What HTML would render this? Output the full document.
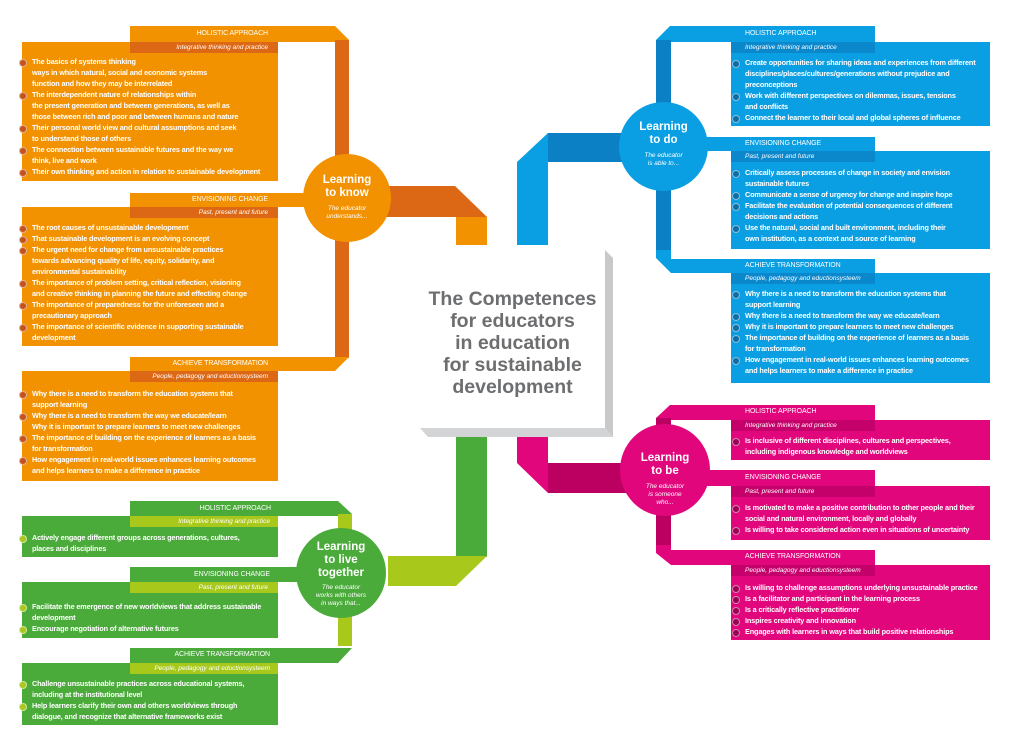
<!DOCTYPE html>
<html><head><meta charset="utf-8"><style>
*{margin:0;padding:0;box-sizing:border-box}
body{width:1024px;height:750px;background:#fff;position:relative;overflow:hidden;font-family:"Liberation Sans",sans-serif}
.a{position:absolute}
.box{position:absolute;color:#fff;font-weight:bold;font-size:7.3px;line-height:11px;letter-spacing:-0.15px;white-space:nowrap}
.box p{position:relative;padding-left:10px}
.box p::before{content:"";position:absolute;left:-3px;top:2.5px;width:6px;height:6px;border-radius:50%;background:var(--b);border:1px solid #fff8}
.hd{position:absolute;color:#fff;font-size:7px;line-height:14px;letter-spacing:-0.1px}
.sh{position:absolute;color:#fff;font-size:6.5px;line-height:11px;font-style:italic}
.circ{position:absolute;border-radius:50%;color:#fff;text-align:center}
.circ b{display:block;font-size:11.5px;line-height:13px}
.circ i{display:block;font-size:6.5px;line-height:8px;margin-top:5px}
</style></head><body>
<svg class="a" style="left:0;top:0" width="1024" height="750">
<polygon points="130,26 335,26 349,40 349,42 130,42" fill="#f39200"/>
<rect x="335" y="40" width="14" height="318" fill="#dc6714"/>
<polygon points="130,357 349,357 335,371 130,371" fill="#f39200"/>
<rect x="130" y="193" width="190" height="14" fill="#f39200"/>
<polygon points="385,186 455,186 487,217 385,217 385,210" fill="#dc6714"/>
<rect x="456" y="217" width="31" height="28" fill="#f39200"/>
<polygon points="670,26 875,26 875,42 656,42 656,40" fill="#0a9fe3"/>
<rect x="656" y="40" width="15" height="212" fill="#0b80c4"/>
<polygon points="656,250 671,250 671,259 875,259 875,273 671,273 656,258" fill="#0a9fe3"/>
<rect x="700" y="137" width="175" height="14" fill="#0a9fe3"/>
<rect x="548" y="133" width="80" height="29" fill="#0b80c4"/>
<polygon points="548,133 548,245 517,245 517,162" fill="#0a9fe3"/>
<polygon points="670,405 875,405 875,420 656,420 656,418" fill="#e2067c"/>
<rect x="656" y="418" width="15" height="130" fill="#bb0062"/>
<polygon points="656,545 671,545 671,550 875,550 875,565 671,565 656,553" fill="#e2067c"/>
<rect x="700" y="470" width="175" height="16" fill="#e2067c"/>
<polygon points="517,437 548,437 548,493 517,463" fill="#e2067c"/>
<rect x="548" y="463" width="80" height="30" fill="#bb0062"/>
<polygon points="130,501 338,501 352,514 352,516 130,516" fill="#4aab3a"/>
<rect x="338" y="514" width="14" height="132" fill="#a8c81c"/>
<polygon points="130,648 352,648 338,663 130,663" fill="#4aab3a"/>
<rect x="130" y="567" width="190" height="15" fill="#4aab3a"/>
<rect x="456" y="437" width="31" height="120" fill="#4aab3a"/>
<polygon points="388,556 487,556 456,586 388,586" fill="#a8c81c"/>
<polygon points="605,250 613,258 613,437 605,428" fill="#c8c9cb"/>
<polygon points="420,428 605,428 613,437 428,437" fill="#d3d4d6"/>
</svg>
<div class="a" style="left:420px;top:250px;width:185px;height:178px;background:#fff"></div>
<div class="a" style="left:415px;top:288px;width:195px;text-align:center;color:#6d6e70;font-weight:bold;font-size:19.5px;line-height:22px">The Competences<br>for educators<br>in education<br>for sustainable<br>development</div>

<div class="a" style="left:22px;top:42px;width:256px;height:139px;background:#f39200"></div>
<div class="a" style="left:130px;top:42px;width:148px;height:11px;background:#dc6714"></div>
<div class="hd" style="left:130px;top:27px;width:138px;text-align:right">HOLISTIC APPROACH</div>
<div class="sh" style="left:130px;top:42px;width:138px;text-align:right">Integrative thinking and practice</div>
<div class="box" style="left:22px;top:56px;--b:#c5521a">
<p>The basics of systems thinking<br>ways in which natural, social and economic systems<br>function and how they may be interrelated</p>
<p>The interdependent nature of relationships within<br>the present generation and between generations, as well as<br>those between rich and poor and between humans and nature</p>
<p>Their personal world view and cultural assumptions and seek<br>to understand those of others</p>
<p>The connection between sustainable futures and the way we<br>think, live and work</p>
<p>Their own thinking and action in relation to sustainable development</p></div>

<div class="a" style="left:22px;top:207px;width:256px;height:139px;background:#f39200"></div>
<div class="a" style="left:130px;top:207px;width:148px;height:11px;background:#dc6714"></div>
<div class="hd" style="left:130px;top:193px;width:138px;text-align:right">ENVISIONING CHANGE</div>
<div class="sh" style="left:130px;top:207px;width:138px;text-align:right">Past, present and future</div>
<div class="box" style="left:22px;top:222px;--b:#c5521a">
<p>The root causes of unsustainable development</p>
<p>That sustainable development is an evolving concept</p>
<p>The urgent need for change from unsustainable practices<br>towards advancing quality of life, equity, solidarity, and<br>environmental sustainability</p>
<p>The importance of problem setting, critical reflection, visioning<br>and creative thinking in planning the future and effecting change</p>
<p>The importance of preparedness for the unforeseen and a<br>precautionary approach</p>
<p>The importance of scientific evidence in supporting sustainable<br>development</p></div>

<div class="a" style="left:22px;top:371px;width:256px;height:110px;background:#f39200"></div>
<div class="a" style="left:130px;top:371px;width:148px;height:11px;background:#dc6714"></div>
<div class="hd" style="left:130px;top:357px;width:138px;text-align:right">ACHIEVE TRANSFORMATION</div>
<div class="sh" style="left:130px;top:371px;width:138px;text-align:right">People, pedagogy and eductionsysteem</div>
<div class="box" style="left:22px;top:388px;--b:#c5521a">
<p>Why there is a need to transform the education systems that<br>support learning</p>
<p>Why there is a need to transform the way we educate/learn<br>Why it is important to prepare learners to meet new challenges</p>
<p>The importance of building on the experience of learners as a basis<br>for transformation</p>
<p>How engagement in real-world issues enhances learning outcomes<br>and helps learners to make a difference in practice</p></div>

<div class="circ" style="left:303px;top:154px;width:88px;height:88px;background:#f39200;padding-top:20px"><b>Learning<br>to know</b><i>The educator<br>understands...</i></div>

<div class="a" style="left:731px;top:42px;width:259px;height:84px;background:#0a9fe3"></div>
<div class="a" style="left:731px;top:42px;width:144px;height:11px;background:#0b87cc"></div>
<div class="hd" style="left:745px;top:27px">HOLISTIC APPROACH</div>
<div class="sh" style="left:745px;top:42px">Integrative thinking and practice</div>
<div class="box" style="left:735px;top:57px;--b:#0b6fa8">
<p>Create opportunities for sharing ideas and experiences from different<br>disciplines/places/cultures/generations without prejudice and<br>preconceptions</p>
<p>Work with different perspectives on dilemmas, issues, tensions<br>and conflicts</p>
<p>Connect the learner to their local and global spheres of influence</p></div>

<div class="a" style="left:731px;top:151px;width:259px;height:98px;background:#0a9fe3"></div>
<div class="a" style="left:731px;top:151px;width:144px;height:11px;background:#0b87cc"></div>
<div class="hd" style="left:745px;top:137px">ENVISIONING CHANGE</div>
<div class="sh" style="left:745px;top:151px">Past, present and future</div>
<div class="box" style="left:735px;top:167px;--b:#0b6fa8">
<p>Critically assess processes of change in society and envision<br>sustainable futures</p>
<p>Communicate a sense of urgency for change and inspire hope</p>
<p>Facilitate the evaluation of potential consequences of different<br>decisions and actions</p>
<p>Use the natural, social and built environment, including their<br>own institution, as a context and source of learning</p></div>

<div class="a" style="left:731px;top:273px;width:259px;height:110px;background:#0a9fe3"></div>
<div class="a" style="left:731px;top:273px;width:144px;height:11px;background:#0b87cc"></div>
<div class="hd" style="left:745px;top:259px">ACHIEVE TRANSFORMATION</div>
<div class="sh" style="left:745px;top:273px">People, pedagogy and eductionsysteem</div>
<div class="box" style="left:735px;top:288px;--b:#0b6fa8">
<p>Why there is a need to transform the education systems that<br>support learning</p>
<p>Why there is a need to transform the way we educate/learn</p>
<p>Why it is important to prepare learners to meet new challenges</p>
<p>The importance of building on the experience of learners as a basis<br>for transformation</p>
<p>How engagement in real-world issues enhances learning outcomes<br>and helps learners to make a difference in practice</p></div>

<div class="circ" style="left:619px;top:102px;width:89px;height:89px;background:#0a9fe3;padding-top:19px"><b>Learning<br>to do</b><i>The educator<br>is able to...</i></div>

<div class="a" style="left:731px;top:420px;width:259px;height:40px;background:#e2067c"></div>
<div class="a" style="left:731px;top:420px;width:144px;height:11px;background:#c4006a"></div>
<div class="hd" style="left:745px;top:405px">HOLISTIC APPROACH</div>
<div class="sh" style="left:745px;top:420px">Integrative thinking and practice</div>
<div class="box" style="left:735px;top:435px;--b:#9c0052">
<p>Is inclusive of different disciplines, cultures and perspectives,<br>including indigenous knowledge and worldviews</p></div>

<div class="a" style="left:731px;top:486px;width:259px;height:54px;background:#e2067c"></div>
<div class="a" style="left:731px;top:486px;width:144px;height:11px;background:#c4006a"></div>
<div class="hd" style="left:745px;top:471px">ENVISIONING CHANGE</div>
<div class="sh" style="left:745px;top:486px">Past, present and future</div>
<div class="box" style="left:735px;top:502px;--b:#9c0052">
<p>Is motivated to make a positive contribution to other people and their<br>social and natural environment, locally and globally</p>
<p>Is willing to take considered action even in situations of uncertainty</p></div>

<div class="a" style="left:731px;top:565px;width:259px;height:75px;background:#e2067c"></div>
<div class="a" style="left:731px;top:565px;width:144px;height:11px;background:#c4006a"></div>
<div class="hd" style="left:745px;top:550px">ACHIEVE TRANSFORMATION</div>
<div class="sh" style="left:745px;top:565px">People, pedagogy and eductionsysteem</div>
<div class="box" style="left:735px;top:582px;--b:#9c0052">
<p>Is willing to challenge assumptions underlying unsustainable practice</p>
<p>Is a facilitator and participant in the learning process</p>
<p>Is a critically reflective practitioner</p>
<p>Inspires creativity and innovation</p>
<p>Engages with learners in ways that build positive relationships</p></div>

<div class="circ" style="left:620px;top:424px;width:90px;height:92px;background:#e2067c;padding-top:28px"><b>Learning<br>to be</b><i>The educator<br>is someone<br>who...</i></div>

<div class="a" style="left:22px;top:516px;width:256px;height:41px;background:#4aab3a"></div>
<div class="a" style="left:130px;top:516px;width:148px;height:11px;background:#a8c81c"></div>
<div class="hd" style="left:130px;top:502px;width:141px;text-align:right">HOLISTIC APPROACH</div>
<div class="sh" style="left:130px;top:516px;width:140px;text-align:right">Integrative thinking and practice</div>
<div class="box" style="left:22px;top:532px;--b:#a8c81c">
<p>Actively engage different groups across generations, cultures,<br>places and disciplines</p></div>

<div class="a" style="left:22px;top:582px;width:256px;height:56px;background:#4aab3a"></div>
<div class="a" style="left:130px;top:582px;width:148px;height:11px;background:#a8c81c"></div>
<div class="hd" style="left:130px;top:568px;width:140px;text-align:right">ENVISIONING CHANGE</div>
<div class="sh" style="left:130px;top:582px;width:138px;text-align:right">Past, present and future</div>
<div class="box" style="left:22px;top:601px;--b:#a8c81c">
<p>Facilitate the emergence of new worldviews that address sustainable<br>development</p>
<p>Encourage negotiation of alternative futures</p></div>

<div class="a" style="left:22px;top:663px;width:256px;height:62px;background:#4aab3a"></div>
<div class="a" style="left:130px;top:663px;width:148px;height:11px;background:#a8c81c"></div>
<div class="hd" style="left:130px;top:648px;width:140px;text-align:right">ACHIEVE TRANSFORMATION</div>
<div class="sh" style="left:130px;top:663px;width:140px;text-align:right">People, pedagogy and eductionsysteem</div>
<div class="box" style="left:22px;top:678px;--b:#a8c81c">
<p>Challenge unsustainable practices across educational systems,<br>including at the institutional level</p>
<p>Help learners clarify their own and others worldviews through<br>dialogue, and recognize that alternative frameworks exist</p></div>

<div class="circ" style="left:296px;top:528px;width:90px;height:90px;background:#4aab3a;padding-top:13px"><b>Learning<br>to live<br>together</b><i style="margin-top:4px">The educator<br>works with others<br>in ways that...</i></div>
</body></html>
